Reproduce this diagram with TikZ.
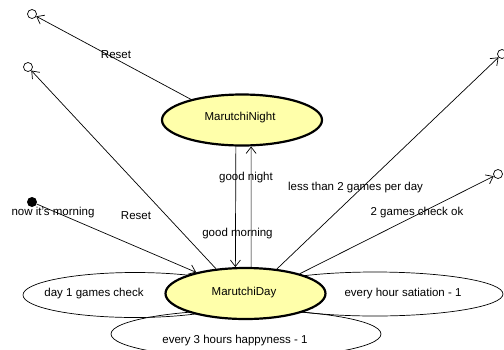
\documentclass[tikz,border=0pt]{standalone}
\usepackage{fontspec}
\setmainfont{Liberation Sans}
\usetikzlibrary{arrows.meta,shapes.geometric}
\definecolor{statefill}{RGB}{255,255,170}
\tikzset{
  state/.style={ellipse, draw=black, line width=2.2pt, fill=statefill,
    minimum width=160pt, minimum height=51pt, inner sep=0pt},
  loopshape/.style={ellipse, draw=black, line width=0.7pt, inner sep=0pt},
  finalstate/.style={circle, draw=black, line width=0.7pt, minimum size=9pt, inner sep=0pt},
  initstate/.style={circle, fill=black, minimum size=10pt, inner sep=0pt},
  trans/.style={draw=black, line width=0.7pt, -{Straight Barb[length=6.5pt,width=10pt]}},
  lbl/.style={inner sep=0pt, font=\fontsize{11.5}{13}\selectfont}
}
\begin{document}
\begin{tikzpicture}[x=1pt,y=-1pt]
\useasboundingbox (0,0) rectangle (504,349);

% self-transition loops around the day state
\node[loopshape, minimum width=224pt, minimum height=45pt] (loopL) at (135,295) {};
\node[loopshape, minimum width=256pt, minimum height=44pt] (loopR) at (375,294) {};
\node[loopshape, minimum width=270pt, minimum height=48pt] (loopB) at (246,334) {};

% states
\node[state] (Night) at (242,120) {};
\node[lbl] at (240,118) {MarutchiNight};
\node[state] (Day) at (245.5,293.5) {};
\node[lbl] at (244,293) {MarutchiDay};

% pseudo states
\node[finalstate] (f1) at (32,14) {};
\node[finalstate] (f2) at (28,67) {};
\node[finalstate] (f3) at (502,54) {};
\node[finalstate] (f4) at (498,174) {};
\node[initstate] (start) at (32,202) {};

% transitions
\draw[trans] (Night.158) -- (f1);
\draw[trans] (Day.140) -- (f2);
\draw[trans] (start) -- (Day);
\draw[trans] (Night.257) -- (Day.111);
\draw[trans] (Day.78) -- (Night.289);
\draw[trans] (Day.38) -- (f3);
\draw[trans] (Day.20) -- (f4);

% transition labels
\node[lbl] (tReset1) at (116,55) {Reset};
\node[lbl] (tReset2) at (136,216) {Reset};
\node[lbl] (tMorningInit) at (53,213) {now it's morning};
\node[lbl] (tNight) at (246,178) {good night};
\node[lbl] (tMorning) at (237.5,234) {good morning};
\node[lbl] (tLess) at (355.5,188) {less than 2 games per day};
\node[lbl] (tOk) at (417,213) {2 games check ok};
\node[lbl] (tDay1) at (94,294) {day 1 games check};
\node[lbl] (tHour) at (403,294) {every hour satiation - 1};
\node[lbl] (t3h) at (235,341) {every 3 hours happyness - 1};
\end{tikzpicture}
\end{document}
